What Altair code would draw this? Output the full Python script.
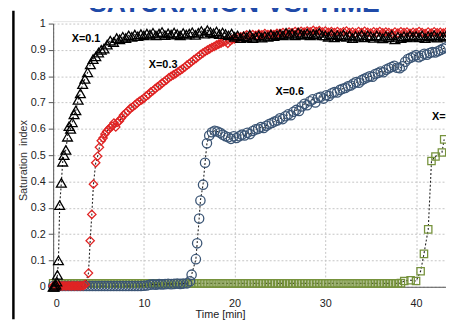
import altair as alt
import pandas as pd

# ---------------- data ----------------
# X = 0.1  (black open triangles)
x01_time = [
    0, 0.1, 0.2, 0.3, 0.4, 0.47, 0.58, 0.72, 0.9, 1.05, 1.2, 1.4, 1.58, 1.75, 1.92, 2.1,
    2.3, 2.5, 2.75, 3.0, 3.25, 3.5, 3.8, 4.1, 4.4, 4.7, 5.0, 5.3, 5.6, 5.95, 6.3, 6.65, 7.0,
    7.33, 7.67,
    8, 8.33, 8.67, 9, 9.33, 9.67, 10, 10.33, 10.67, 11, 11.33, 11.67,
    12, 12.33, 12.67, 13, 13.33, 13.67, 14, 14.33, 14.67, 15, 15.33, 15.67,
    16, 16.33, 16.67, 17, 17.33, 17.67, 18, 18.33, 18.67, 19, 19.33, 19.67,
    20, 20.33, 20.67, 21, 21.33, 21.67, 22, 22.33, 22.67, 23, 23.33, 23.67,
    24, 24.33, 24.67, 25, 25.33, 25.67, 26, 26.33, 26.67, 27, 27.33, 27.67,
    28, 28.33, 28.67, 29, 29.33, 29.67, 30, 30.33, 30.67, 31, 31.33, 31.67,
    32, 32.33, 32.67, 33, 33.33, 33.67, 34, 34.33, 34.67, 35, 35.33, 35.67,
    36, 36.33, 36.67, 37, 37.33, 37.67, 38, 38.33, 38.67, 39, 39.33, 39.67,
    40, 40.33, 40.67, 41, 41.33, 41.67, 42, 42.33, 42.67, 43, 43.33,
]
x01_sat = [
    0.0, 0.0, 0.004, 0.008, 0.02, 0.045, 0.10, 0.31, 0.395, 0.475, 0.50, 0.52, 0.57, 0.61, 0.60, 0.625,
    0.655, 0.67, 0.71, 0.735, 0.77, 0.79, 0.815, 0.845, 0.865, 0.875, 0.89, 0.90, 0.905, 0.92, 0.935, 0.93, 0.945,
    0.94, 0.95,
    0.945, 0.955, 0.95, 0.958, 0.952, 0.96, 0.955, 0.962, 0.958, 0.965, 0.955, 0.962,
    0.968, 0.956, 0.963, 0.958, 0.966, 0.96, 0.955, 0.964, 0.958, 0.962, 0.967, 0.957,
    0.965, 0.972, 0.962, 0.975, 0.968, 0.963, 0.97, 0.96, 0.966, 0.96, 0.955, 0.962,
    0.95, 0.955, 0.945, 0.952, 0.948, 0.958, 0.945, 0.95, 0.955, 0.947, 0.953, 0.95,
    0.958, 0.952, 0.956, 0.96, 0.955, 0.965, 0.958, 0.962, 0.955, 0.966, 0.96, 0.957,
    0.963, 0.955, 0.96, 0.958, 0.965, 0.955, 0.955, 0.95, 0.96, 0.948, 0.956, 0.952,
    0.958, 0.95, 0.955, 0.945, 0.953, 0.95, 0.957, 0.948, 0.955, 0.952, 0.946, 0.955,
    0.95, 0.944, 0.953, 0.948, 0.956, 0.94, 0.95, 0.945, 0.952, 0.948, 0.955, 0.95,
    0.953, 0.948, 0.955, 0.945, 0.952, 0.95, 0.956, 0.947, 0.953, 0.95, 0.955,
]

# X = 0.3  (red open diamonds)
x03_time = [
    0, 0.17, 0.33, 0.5, 0.67, 0.83, 1, 1.17, 1.33, 1.5, 1.67, 1.83, 2, 2.17, 2.33, 2.5,
    2.67, 2.83, 3, 3.17, 3.33,
    3.53, 3.89, 4.08, 4.26, 4.44, 4.69, 4.9, 5.1, 5.3, 5.5, 5.7, 5.9, 6.1, 6.3, 6.5, 6.7,
    6.9, 7.1, 7.3, 7.5, 7.75, 8.0, 8.25, 8.5, 8.75, 9.0, 9.25, 9.5, 9.75, 10.0, 10.25, 10.5,
    10.75, 11.0, 11.25, 11.5, 11.75, 12.0, 12.25, 12.5, 12.75, 13.0, 13.25, 13.5, 13.75,
    14.0, 14.25, 14.5, 14.75, 15.0, 15.25, 15.5, 15.75, 16.0, 16.25, 16.5, 16.75, 17.0,
    17.25, 17.5, 17.75, 18.0, 18.25, 18.5, 18.75, 19.0, 19.25, 19.5, 19.75, 20.0, 20.33, 20.67,
    21, 21.33, 21.67, 22, 22.33, 22.67, 23, 23.33, 23.67,
    24, 24.33, 24.67, 25, 25.33, 25.67, 26, 26.33, 26.67, 27, 27.33, 27.67,
    28, 28.33, 28.67, 29, 29.33, 29.67, 30, 30.33, 30.67, 31, 31.33, 31.67,
    32, 32.33, 32.67, 33, 33.33, 33.67, 34, 34.33, 34.67, 35, 35.33, 35.67,
    36, 36.33, 36.67, 37, 37.33, 37.67, 38, 38.33, 38.67, 39, 39.33, 39.67,
    40, 40.33, 40.67, 41, 41.33, 41.67, 42, 42.33, 42.67, 43, 43.33,
]
x03_sat = [
    0.003, 0.004, 0.003, 0.003, 0.004, 0.003, 0.003, 0.004, 0.003, 0.003, 0.004, 0.003, 0.003, 0.004, 0.003, 0.003,
    0.004, 0.003, 0.003, 0.004, 0.004,
    0.009, 0.052, 0.175, 0.275, 0.39, 0.471, 0.496, 0.53, 0.555, 0.565, 0.58, 0.59, 0.598, 0.605, 0.61, 0.622,
    0.607, 0.625, 0.63, 0.64, 0.652, 0.66, 0.668, 0.678, 0.683, 0.69, 0.698, 0.705, 0.71, 0.716, 0.725, 0.73,
    0.74, 0.745, 0.753, 0.76, 0.765, 0.774, 0.78, 0.786, 0.794, 0.80, 0.805, 0.81, 0.816,
    0.822, 0.828, 0.834, 0.842, 0.848, 0.855, 0.862, 0.868, 0.875, 0.882, 0.888, 0.894, 0.899,
    0.904, 0.909, 0.913, 0.918, 0.922, 0.926, 0.93, 0.932, 0.925, 0.935, 0.94, 0.942, 0.947, 0.95,
    0.953, 0.957, 0.952, 0.958, 0.955, 0.96, 0.957, 0.962, 0.958,
    0.96, 0.958, 0.963, 0.962, 0.966, 0.963, 0.968, 0.965, 0.97, 0.967, 0.971, 0.968,
    0.972, 0.969, 0.974, 0.97, 0.973, 0.968, 0.972, 0.967, 0.97, 0.966, 0.97, 0.965,
    0.969, 0.972, 0.966, 0.968, 0.964, 0.97, 0.966, 0.971, 0.967, 0.964, 0.969, 0.966,
    0.97, 0.965, 0.968, 0.966, 0.962, 0.968, 0.964, 0.969, 0.966, 0.968, 0.963, 0.967,
    0.965, 0.97, 0.966, 0.962, 0.968, 0.964, 0.969, 0.965, 0.967, 0.964, 0.968,
]

# X = 0.6  (dark blue open circles)
x06_time = [
    0, 0.33, 0.67, 1, 1.33, 1.67, 2, 2.33, 2.67, 3, 3.33, 3.67,
    4, 4.33, 4.67, 5, 5.33, 5.67, 6, 6.33, 6.67, 7, 7.33, 7.67,
    8, 8.33, 8.67, 9, 9.33, 9.67, 10, 10.33,
    10.67, 11, 11.33, 11.67, 12, 12.33, 12.67, 13, 13.33, 13.67, 14, 14.33,
    14.75, 15.08, 15.26, 15.73, 15.87, 16.09, 16.23, 16.52, 16.74, 16.95, 17.2,
    17.5, 17.8, 18.1, 18.4, 18.7, 19.0, 19.3, 19.6, 19.9, 20.2, 20.5, 20.8, 21.1, 21.4, 21.7,
    22.0, 22.3, 22.6, 22.9, 23.2, 23.5, 23.8, 24.1, 24.4, 24.7, 25.0, 25.3, 25.6, 25.9, 26.2,
    26.5, 26.8, 27.1, 27.4, 27.7, 28.0, 28.3, 28.6, 28.9, 29.2, 29.5, 29.8, 30.1, 30.4, 30.7,
    31.0, 31.3, 31.6, 31.9, 32.2, 32.5, 32.8, 33.1, 33.4, 33.7, 34.0, 34.3, 34.6, 34.9, 35.2,
    35.5, 35.8, 36.1, 36.4, 36.7, 37.0, 37.3, 37.6, 37.9, 38.2, 38.5, 38.8, 39.1, 39.4, 39.7,
    40.0, 40.3, 40.6, 40.9, 41.2, 41.5, 41.8, 42.1, 42.4, 42.7, 43.0, 43.3,
]
x06_sat = [
    0.003, 0.003, 0.003, 0.003, 0.003, 0.003, 0.003, 0.003, 0.003, 0.003, 0.003, 0.003,
    0.003, 0.003, 0.003, 0.003, 0.003, 0.003, 0.003, 0.003, 0.003, 0.003, 0.003, 0.003,
    0.003, 0.003, 0.003, 0.003, 0.003, 0.003, 0.004, 0.005,
    0.008, 0.009, 0.008, 0.01, 0.009, 0.01, 0.011, 0.01, 0.011, 0.012, 0.011, 0.012,
    0.013, 0.021, 0.046, 0.105, 0.165, 0.259, 0.328, 0.388, 0.471, 0.545, 0.575,
    0.587, 0.593, 0.59, 0.585, 0.578, 0.572, 0.568, 0.562, 0.572, 0.565, 0.572, 0.578, 0.575, 0.585, 0.58,
    0.592, 0.598, 0.6, 0.607, 0.603, 0.612, 0.618, 0.622, 0.628, 0.632, 0.64, 0.637, 0.648, 0.655, 0.652,
    0.665, 0.672, 0.668, 0.685, 0.695, 0.69, 0.705, 0.712, 0.70, 0.718, 0.722, 0.715, 0.728, 0.725, 0.735,
    0.74, 0.738, 0.748, 0.752, 0.755, 0.762, 0.765, 0.772, 0.778, 0.775, 0.785, 0.79, 0.795, 0.8, 0.798,
    0.808, 0.812, 0.818, 0.815, 0.825, 0.83, 0.835, 0.84, 0.832, 0.83, 0.838, 0.855, 0.865, 0.87, 0.875,
    0.88, 0.872, 0.878, 0.885, 0.882, 0.888, 0.892, 0.89, 0.895, 0.9, 0.905, 0.91,
]

# X = 0.9  (olive open squares)
x09_time = [
    0, 0.33, 0.67, 1, 1.33, 1.67, 2, 2.33, 2.67, 3, 3.33, 3.67,
    4, 4.33, 4.67, 5, 5.33, 5.67, 6, 6.33, 6.67, 7, 7.33, 7.67,
    8, 8.33, 8.67, 9, 9.33, 9.67, 10, 10.33, 10.67, 11, 11.33, 11.67,
    12, 12.33, 12.67, 13, 13.33, 13.67, 14, 14.33, 14.67, 15, 15.33, 15.67,
    16, 16.33, 16.67, 17, 17.33, 17.67, 18, 18.33, 18.67, 19, 19.33, 19.67,
    20, 20.33, 20.67, 21, 21.33, 21.67, 22, 22.33, 22.67, 23, 23.33, 23.67,
    24, 24.33, 24.67, 25, 25.33, 25.67, 26, 26.33, 26.67, 27, 27.33, 27.67,
    28, 28.33, 28.67, 29, 29.33, 29.67, 30, 30.33, 30.67, 31, 31.33, 31.67,
    32, 32.33, 32.67, 33, 33.33, 33.67, 34, 34.33, 34.67, 35, 35.33, 35.67,
    36, 36.33, 36.67, 37, 37.33, 37.67, 38, 38.33,
    38.7, 39.4, 40.0, 40.5, 40.87, 41.34, 41.7, 42.14, 42.85, 43.1,
]
x09_sat = [
    0.013, 0.013, 0.013, 0.013, 0.013, 0.013, 0.013, 0.013, 0.013, 0.013, 0.013, 0.013,
    0.013, 0.013, 0.013, 0.013, 0.013, 0.013, 0.013, 0.013, 0.013, 0.013, 0.013, 0.013,
    0.013, 0.013, 0.013, 0.013, 0.013, 0.013, 0.013, 0.013, 0.013, 0.013, 0.013, 0.013,
    0.013, 0.013, 0.013, 0.013, 0.013, 0.013, 0.013, 0.013, 0.013, 0.013, 0.013, 0.013,
    0.013, 0.013, 0.013, 0.013, 0.013, 0.013, 0.013, 0.013, 0.013, 0.013, 0.013, 0.013,
    0.013, 0.013, 0.013, 0.013, 0.013, 0.013, 0.013, 0.013, 0.013, 0.013, 0.013, 0.013,
    0.013, 0.013, 0.013, 0.013, 0.013, 0.013, 0.013, 0.013, 0.013, 0.013, 0.013, 0.013,
    0.013, 0.013, 0.013, 0.013, 0.013, 0.013, 0.013, 0.013, 0.013, 0.013, 0.013, 0.013,
    0.013, 0.013, 0.013, 0.013, 0.013, 0.013, 0.013, 0.013, 0.013, 0.013, 0.013, 0.013,
    0.013, 0.013, 0.013, 0.013, 0.013, 0.013, 0.013, 0.014,
    0.022, 0.025, 0.022, 0.059, 0.125, 0.218, 0.478, 0.495, 0.51, 0.56,
]

series_labels = ["X=0.1", "X=0.3", "X=0.6"]
label_time = [3.63, 12.12, 26.08]
label_sat = [0.941, 0.844, 0.739]
edge_label = ["X=0.9"]
edge_label_time = [41.77]
edge_label_sat = [0.643]

y_ticks = [0, 0.1, 0.2, 0.3, 0.4, 0.5, 0.6, 0.7, 0.8, 0.9, 1]
x_ticks = [0, 10, 20, 30, 40]
x_max = 43.3

chart_title = "SATURATION VS. TIME"
x_title = "Time [min]"
y_title = "Saturation\u00a0 index"

# ---------------- styling ----------------
FONT = "Liberation Sans"

xs = alt.Scale(domain=[0, x_max], nice=False, zero=False)
ys = alt.Scale(domain=[0, 1], nice=False)

x_axis = alt.Axis(
    values=x_ticks, grid=True, gridColor="#c4c4c4", gridDash=[2, 2], gridWidth=1,
    domainColor="#555555", domainWidth=1, ticks=False, labelPadding=11,
    labelFont=FONT, labelFontSize=11, labelColor="#222222",
    title=x_title, titleFont=FONT, titleFontSize=11, titleFontWeight="normal",
    titleColor="#222222", titleX=170, titleY=31, titleBaseline="alphabetic",
    titleAlign="center",
)
y_axis = alt.Axis(
    values=y_ticks, format="~g", grid=True, gridColor="#c4c4c4", gridDash=[2, 2],
    gridWidth=1, domainColor="#555555", domainWidth=1, tickColor="#555555",
    tickSize=5, labelPadding=3, labelFont=FONT, labelFontSize=11,
    labelColor="#222222", title=y_title, titleFont=FONT, titleFontSize=11,
    titleFontWeight="normal", titleColor="#333333", titleX=-30, titleY=139,
    titleAngle=270, titleBaseline="middle", titleAlign="center",
)


def enc(ch):
    return ch.encode(
        x=alt.X("t:Q", scale=xs, axis=x_axis),
        y=alt.Y("v:Q", scale=ys, axis=y_axis),
    )


def series_layers(times, sats, shape, color, size):
    df = pd.DataFrame({"t": times, "v": sats})
    line = enc(alt.Chart(df).mark_line(
        color="#222222", strokeDash=[2, 2], strokeWidth=1.1))
    pts = enc(alt.Chart(df).mark_point(
        shape=shape, filled=False, size=size, strokeWidth=1.3, color=color,
        opacity=1))
    return [line, pts]


layers = []
layers += series_layers(x09_time, x09_sat, "square", "#76923c", 56)
layers += series_layers(x06_time, x06_sat, "circle", "#3b5575", 90)
layers += series_layers(x03_time, x03_sat, "diamond", "#e02424", 72)
layers += series_layers(x01_time, x01_sat, "triangle-up", "#000000", 100)

lab_df = pd.DataFrame({"t": label_time, "v": label_sat, "label": series_labels})
layers.append(
    alt.Chart(lab_df).mark_text(
        font=FONT, fontSize=11, fontWeight="bold", color="#000000",
        align="center", baseline="middle",
    ).encode(
        x=alt.X("t:Q", scale=xs, axis=x_axis),
        y=alt.Y("v:Q", scale=ys, axis=y_axis),
        text="label:N",
    )
)
edge_df = pd.DataFrame({"t": edge_label_time, "v": edge_label_sat, "label": edge_label})
layers.append(
    alt.Chart(edge_df).mark_text(
        font=FONT, fontSize=11, fontWeight="bold", color="#000000",
        align="left", baseline="middle",
    ).encode(
        x=alt.X("t:Q", scale=xs, axis=x_axis),
        y=alt.Y("v:Q", scale=ys, axis=y_axis),
        text="label:N",
    )
)

one = pd.DataFrame({"k": [0]})
# chart title (cut off at the top, as in the picture)
layers.append(
    alt.Chart(one).mark_text(
        text=chart_title, font=FONT, fontSize=27, fontWeight="bold",
        color="#1f4aa8", align="center", baseline="alphabetic",
    ).encode(x=alt.value(184.5), y=alt.value(-12))
)
# frame line at the left edge
layers.append(
    alt.Chart(one).mark_rule(color="#000000", strokeWidth=2.5).encode(
        x=alt.value(-40.5), y=alt.value(-13), y2=alt.value(301))
)
# faint top border of the plot area
layers.append(
    alt.Chart(one).mark_rule(color="#e4e4e4", strokeWidth=1).encode(
        x=alt.value(0), x2=alt.value(400), y=alt.value(-2))
)

chart = alt.layer(*layers).properties(
    width=400, height=268,
    autosize=alt.AutoSizeParams(type="none"),
    padding={"left": 46, "top": 13, "right": 0, "bottom": 33},
    background="white",
).configure_view(stroke=None)

chart.save("out.html", embed_options={"renderer": "svg", "actions": False})
